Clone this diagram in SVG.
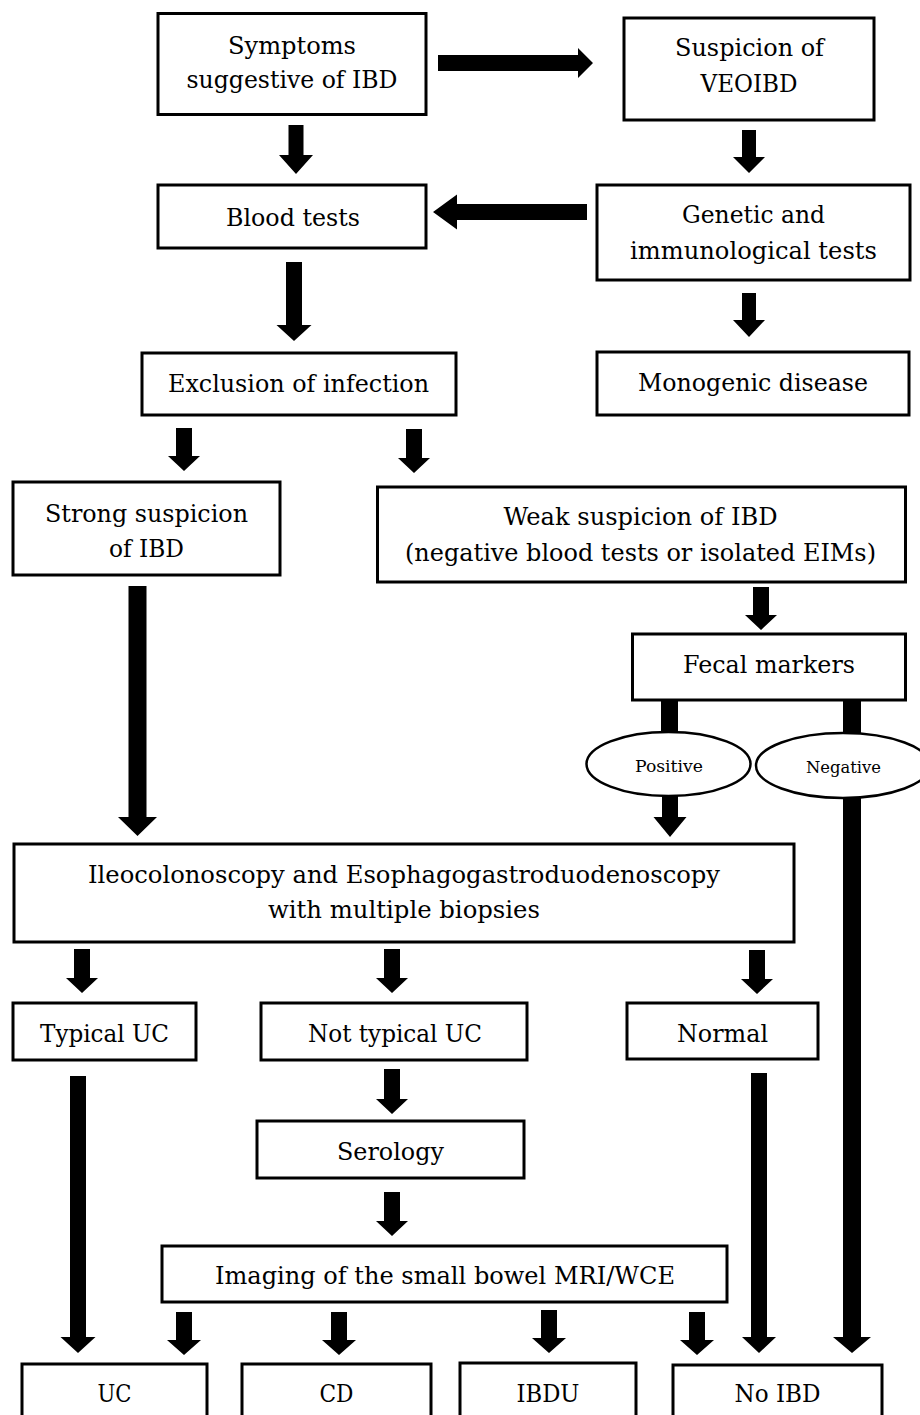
<svg xmlns="http://www.w3.org/2000/svg" width="920" height="1415" viewBox="0 0 920 1415">
<style>
.b{fill:#fff;stroke:#000;stroke-width:3}
.e{fill:#fff;stroke:#000;stroke-width:2.5}
.t{font-family:"DejaVu Serif","Liberation Serif",serif;font-size:25px;text-anchor:middle;fill:#000}
.s{font-family:"DejaVu Serif","Liberation Serif",serif;font-size:17.5px;text-anchor:middle;fill:#000}
.a{fill:#000;stroke:none}
</style>
<rect width="920" height="1415" fill="#fff"/>
<g id="connectors">
<polygon class="a" points="438,55 578,55 578,48 593,63 578,78 578,71 438,71"/>
<polygon class="a" points="288.5,125 303.5,125 303.5,155 313,155 296,174 279,155 288.5,155"/>
<polygon class="a" points="587,204 457,204 457,194.5 433,212 457,229.5 457,220 587,220"/>
<polygon class="a" points="742,130 756,130 756,157 765,157 749,173 733,157 742,157"/>
<polygon class="a" points="742,293 756,293 756,320 765,320 749,337 733,320 742,320"/>
<polygon class="a" points="286,262 302,262 302,325 311.5,325 294,341 276.5,325 286,325"/>
<polygon class="a" points="176,428 192,428 192,456 200,456 184,471 168,456 176,456"/>
<polygon class="a" points="406,429 422,429 422,458 430,458 414,473 398,458 406,458"/>
<polygon class="a" points="128.5,586 146.5,586 146.5,817 157,817 137.5,836 118,817 128.5,817"/>
<polygon class="a" points="753,587 769,587 769,615 777,615 761,630 745,615 753,615"/>
<rect class="a" x="661" y="700" width="17" height="40"/>
<polygon class="a" points="662,796 678,796 678,817 686.5,817 670,837 653.5,817 662,817"/>
<polygon class="a" points="843,700 861,700 861,1337 871,1337 852,1353 833,1337 843,1337"/>
<polygon class="a" points="74,949 90,949 90,978 98,978 82,993 66,978 74,978"/>
<polygon class="a" points="384,949 400,949 400,978 408,978 392,993 376,978 384,978"/>
<polygon class="a" points="749,950 765,950 765,979 773,979 757,994 741,979 749,979"/>
<polygon class="a" points="70,1076 86,1076 86,1337 95.5,1337 78,1353 60.5,1337 70,1337"/>
<polygon class="a" points="384,1069 400,1069 400,1099 408,1099 392,1114 376,1099 384,1099"/>
<polygon class="a" points="384,1192 400,1192 400,1221 408,1221 392,1236 376,1221 384,1221"/>
<polygon class="a" points="176,1312 192,1312 192,1340 201,1340 184,1355 167,1340 176,1340"/>
<polygon class="a" points="331,1312 347,1312 347,1340 356,1340 339,1355 322,1340 331,1340"/>
<polygon class="a" points="541,1310 557,1310 557,1338 566,1338 549,1353 532,1338 541,1338"/>
<polygon class="a" points="689,1312 705,1312 705,1340 714,1340 697,1355 680,1340 689,1340"/>
<polygon class="a" points="751,1073 767,1073 767,1337 776,1337 759,1353 742,1337 751,1337"/>
</g>
<g id="symptoms">
<rect class="b" x="158" y="13.5" width="268" height="101"/>
<text class="t" x="292" y="54" textLength="128" lengthAdjust="spacingAndGlyphs">Symptoms</text>
<text class="t" x="292" y="88" textLength="211" lengthAdjust="spacingAndGlyphs">suggestive of IBD</text>
</g>
<g id="veoibd">
<rect class="b" x="624" y="18" width="250" height="102"/>
<text class="t" x="749.5" y="56" textLength="149" lengthAdjust="spacingAndGlyphs">Suspicion of</text>
<text class="t" x="749" y="92" textLength="97" lengthAdjust="spacingAndGlyphs">VEOIBD</text>
</g>
<g id="blood">
<rect class="b" x="158" y="185" width="268" height="63"/>
<text class="t" x="293" y="226" textLength="134" lengthAdjust="spacingAndGlyphs">Blood tests</text>
</g>
<g id="genetic">
<rect class="b" x="597" y="185" width="313" height="95"/>
<text class="t" x="753.5" y="223" textLength="143" lengthAdjust="spacingAndGlyphs">Genetic and</text>
<text class="t" x="753.5" y="259" textLength="247" lengthAdjust="spacingAndGlyphs">immunological tests</text>
</g>
<g id="monogenic">
<rect class="b" x="597" y="352" width="312" height="63"/>
<text class="t" x="753" y="391" textLength="230" lengthAdjust="spacingAndGlyphs">Monogenic disease</text>
</g>
<g id="exclusion">
<rect class="b" x="142" y="353" width="314" height="62"/>
<text class="t" x="298.5" y="392" textLength="261" lengthAdjust="spacingAndGlyphs">Exclusion of infection</text>
</g>
<g id="strong">
<rect class="b" x="13" y="482" width="267" height="93"/>
<text class="t" x="146.5" y="522" textLength="203" lengthAdjust="spacingAndGlyphs">Strong suspicion</text>
<text class="t" x="146.5" y="557" textLength="75" lengthAdjust="spacingAndGlyphs">of IBD</text>
</g>
<g id="weak">
<rect class="b" x="377.5" y="487" width="528" height="95"/>
<text class="t" x="640.5" y="525" textLength="274" lengthAdjust="spacingAndGlyphs">Weak suspicion of IBD</text>
<text class="t" x="640.5" y="561" textLength="471" lengthAdjust="spacingAndGlyphs">(negative blood tests or isolated EIMs)</text>
</g>
<g id="fecal">
<rect class="b" x="632.5" y="634" width="273" height="66"/>
<text class="t" x="769" y="673" textLength="172" lengthAdjust="spacingAndGlyphs">Fecal markers</text>
</g>
<g id="positive">
<ellipse class="e" cx="668.5" cy="764" rx="82" ry="32"/>
<text class="s" x="669" y="772" textLength="68" lengthAdjust="spacingAndGlyphs">Positive</text>
</g>
<g id="negative">
<ellipse class="e" cx="843" cy="765.5" rx="87" ry="32.5"/>
<text class="s" x="843.5" y="773" textLength="75" lengthAdjust="spacingAndGlyphs">Negative</text>
</g>
<g id="endoscopy">
<rect class="b" x="14" y="844" width="780" height="98"/>
<text class="t" x="404" y="883" textLength="632" lengthAdjust="spacingAndGlyphs">Ileocolonoscopy and Esophagogastroduodenoscopy</text>
<text class="t" x="404" y="918" textLength="272" lengthAdjust="spacingAndGlyphs">with multiple biopsies</text>
</g>
<g id="typical">
<rect class="b" x="13" y="1003" width="183" height="57"/>
<text class="t" x="104.5" y="1042" textLength="129" lengthAdjust="spacingAndGlyphs">Typical UC</text>
</g>
<g id="nottypical">
<rect class="b" x="261" y="1003" width="266" height="57"/>
<text class="t" x="395" y="1042" textLength="174" lengthAdjust="spacingAndGlyphs">Not typical UC</text>
</g>
<g id="normal">
<rect class="b" x="627" y="1003" width="191" height="56"/>
<text class="t" x="722.5" y="1042" textLength="91" lengthAdjust="spacingAndGlyphs">Normal</text>
</g>
<g id="serology">
<rect class="b" x="257" y="1121" width="267" height="57"/>
<text class="t" x="390.5" y="1160" textLength="107" lengthAdjust="spacingAndGlyphs">Serology</text>
</g>
<g id="imaging">
<rect class="b" x="162" y="1246" width="565" height="56"/>
<text class="t" x="445" y="1284" textLength="460" lengthAdjust="spacingAndGlyphs">Imaging of the small bowel MRI/WCE</text>
</g>
<g id="uc">
<rect class="b" x="22" y="1364" width="185" height="80"/>
<text class="t" x="114.5" y="1402" textLength="34" lengthAdjust="spacingAndGlyphs">UC</text>
</g>
<g id="cd">
<rect class="b" x="242" y="1364" width="189" height="80"/>
<text class="t" x="336.5" y="1402" textLength="34" lengthAdjust="spacingAndGlyphs">CD</text>
</g>
<g id="ibdu">
<rect class="b" x="460" y="1363" width="176" height="80"/>
<text class="t" x="548" y="1402" textLength="63" lengthAdjust="spacingAndGlyphs">IBDU</text>
</g>
<g id="noibd">
<rect class="b" x="673" y="1365" width="209" height="80"/>
<text class="t" x="777.5" y="1402" textLength="86" lengthAdjust="spacingAndGlyphs">No IBD</text>
</g>
</svg>
